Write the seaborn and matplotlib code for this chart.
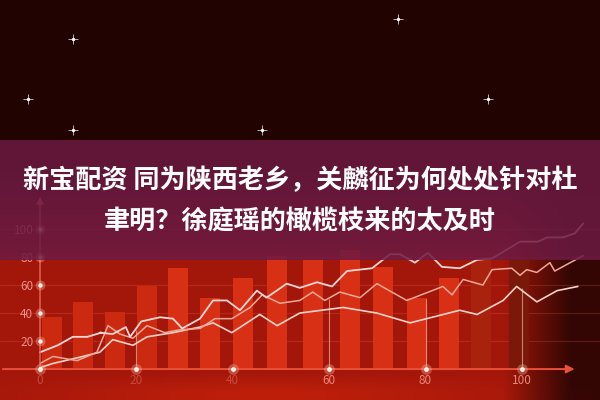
import numpy as np
import pandas as pd
import matplotlib
matplotlib.use("Agg")
import matplotlib.pyplot as plt
from matplotlib.patches import Rectangle
import seaborn as sns

sns.set_style("dark")
plt.rcParams['font.family'] = ['Noto Sans CJK SC', 'DejaVu Sans']

# ---------------- data ----------------
title_line1 = "新宝配资 同为陕西老乡，关麟征为何处处针对杜"
title_line2 = "聿明？徐庭瑶的橄榄枝来的太及时"

bar_x = [2.5, 8.9, 15.6, 22.2, 28.6, 35.3, 42.1, 49.2, 56.6, 64.3, 71.2, 78.2, 84.8, 91.6, 99.4]
bar_h = [37, 48, 41, 59, 72, 51, 65, 81, 78, 85, 73, 51, 65, 79, 78]

line1_x = [0, 3.7, 6.8, 9.8, 12.7, 12.4, 15.1, 17.8, 18.7, 21.0, 24.9, 27.6, 29.5, 33.2, 35.9, 38.8, 41.5, 45.0, 47.0, 51.2, 53.9, 57.5, 60.6, 63.7, 68.9, 72.6, 74.7, 77.8, 80.5, 83.4, 87.1, 90.7, 93.8, 99.6, 103.3, 105.2, 108.5, 111.0, 112.7]
line1_y = [12, 17, 23, 23, 26, 26, 25, 30, 23, 34, 37, 36, 29, 36, 49, 49, 42, 56, 51, 61, 58, 62, 59, 70, 72, 82, 82, 76, 83, 73, 72, 78, 79, 91, 91, 94, 94, 97, 104]

line2_x = [0, 2.7, 7.7, 11.8, 14.1, 16.6, 19.3, 22.2, 25.9, 29.0, 33.2, 36.3, 39.8, 43.6, 46.1, 49.8, 53.9, 56.6, 59.1, 62.2, 66.4, 69.9, 76.1, 83.6, 85.5, 87.8, 91.9, 93.8, 97.9, 99.6, 101.0, 103.1, 105.8, 106.8, 112.7]
line2_y = [4, 9, 6, 12, 31, 25, 22, 31, 26, 28, 29, 36, 36, 44, 53, 47, 49, 55, 49, 55, 51, 61, 49, 59, 53, 64, 60, 71, 72, 67, 71, 69, 76, 70, 81]

line3_x = [0, 2.7, 7.7, 12.4, 15.1, 19.3, 22.2, 27.6, 33.2, 35.9, 39.8, 45.6, 49.2, 53.9, 62.9, 69.9, 76.8, 87.1, 90.7, 96.1, 98.9, 103.1, 107.3, 111.6]
line3_y = [1, 4, 8, 12, 21, 17, 23, 26, 30, 33, 26, 39, 31, 40, 44, 40, 33, 42, 39, 49, 59, 48, 56, 59]

y_ticks = [20, 40, 60, 80, 100]
x_ticks = [0, 20, 40, 60, 80, 100]
x_tick_labels = ["0", "20", "40", "60", "80", "100"]

drop_x = [20, 60, 80, 100]
drop_top = [28, 50, 50, 58]

star_x = [6.8, -2.5, 6.8, 46.1, 74.3, 92.9]
star_y = [236, 193, 171, 171, 250, 193]

# ---------------- figure ----------------
fig = plt.figure(figsize=(6, 4), dpi=100)
ax = fig.add_axes([0, 0, 1, 1])
XL = (-8.3, 116.2)
YL = (-22.1, 263.6)

# background gradient (styling only)
H, W = 400, 600
rr = np.linspace(0, 1, H)[:, None]
cc = np.linspace(0, 1, W)[None, :]
top = np.array([0.13, 0.015, 0.01])
mid = np.array([0.64, 0.09, 0.04])
v = np.clip((rr - 0.42) / 0.22, 0, 1)
hfac = np.clip(1 - (cc - 0.84) / 0.13, 0.15, 1)
img = top[None, None, :] + (mid - top)[None, None, :] * (v * hfac)[..., None]
below = np.clip((rr - 0.93) / 0.05, 0, 1) * np.exp(-((cc - 0.45) ** 2) / 0.12) * hfac
img[..., 0] += below * 0.1
img[..., 1] += below * 0.03
img = np.clip(img, 0, 1)
ax.imshow(img, extent=[XL[0], XL[1], YL[0], YL[1]], aspect='auto', zorder=0, origin='upper')

# horizontal faint grid
for yt in y_ticks:
    ax.axhline(yt, color='#ff7a5a', alpha=0.2, lw=0.8, zorder=1)

# bars
bar_colors = ['#cc2a10'] * 4 + ['#d83014'] * 9 + ['#a8220d', '#7a180a']
df_bars = pd.DataFrame({'x': bar_x, 'h': bar_h, 'k': list(range(len(bar_x)))})
sns.barplot(data=df_bars, x='x', y='h', hue='k', palette=bar_colors, native_scale=True,
            width=0.65, dodge=False, legend=False, ax=ax, zorder=2, linewidth=0, saturation=1)

# drop lines
ax.vlines(drop_x, 0, drop_top, color='#f4b0a0', lw=0.8, alpha=0.7, zorder=3)

# lines
sns.lineplot(x=line3_x, y=line3_y, sort=False, color='#f6d2c8', lw=1.2, ax=ax, zorder=4)
sns.lineplot(x=line2_x, y=line2_y, sort=False, color='#f2a898', lw=1.1, ax=ax, zorder=4)
sns.lineplot(x=line1_x, y=line1_y, sort=False, color='#fad6d6', lw=1.3, ax=ax, zorder=4)

# axes arrows
ax.annotate('', xy=(111.5, 0), xytext=(XL[0], 0),
            arrowprops=dict(arrowstyle='-|>', color='#e8503a', lw=1.4, mutation_scale=12), zorder=5)
ax.annotate('', xy=(0, 125), xytext=(0, -4),
            arrowprops=dict(arrowstyle='-|>', color='#e86a58', lw=1.0, mutation_scale=10), zorder=5)

# glowing dots on axes
ax.scatter(x_ticks, [0] * len(x_ticks), s=60, color='#ffb8a0', alpha=0.35, linewidths=0, zorder=6)
ax.scatter(x_ticks, [0] * len(x_ticks), s=12, color='#fff2e8', linewidths=0, zorder=6)
ax.scatter([0] * len(y_ticks), y_ticks, s=50, color='#ffb8a0', alpha=0.35, linewidths=0, zorder=6)
ax.scatter([0] * len(y_ticks), y_ticks, s=10, color='#fff2e8', linewidths=0, zorder=6)

# stars
ax.scatter(star_x, star_y, s=45, marker='+', color='white', linewidths=0.6, alpha=0.8, zorder=6)
ax.scatter(star_x, star_y, s=6, color='white', linewidths=0, zorder=6)

# ticks inside
ax.set_xlim(*XL)
ax.set_ylim(*YL)
ax.set_yticks(y_ticks)
ax.set_yticklabels([str(t) for t in y_ticks])
ax.set_xticks(x_ticks)
ax.set_xticklabels(x_tick_labels)
ax.tick_params(axis='y', length=0, pad=-24, labelsize=8.5, labelcolor='#e8948a', labelleft=True)
ax.tick_params(axis='x', length=0, pad=-19, labelsize=8.5, labelcolor='#e8867a')
for lab in ax.get_xticklabels():
    if lab.get_text() in ('0', '20', '40'):
        lab.set_alpha(0.45)
ax.set_xlabel('')
ax.set_ylabel('')
ax.grid(False)
for s in ax.spines.values():
    s.set_visible(False)

# banner
ax.add_patch(Rectangle((0, 0.35), 1, 0.30, transform=ax.transAxes, facecolor='#6c1a42',
                       alpha=0.86, edgecolor='none', zorder=10))

fig.text(0.5, 1 - 181 / 400, title_line1, ha='center', va='center', fontsize=18.8,
         fontweight='bold', color='white')
fig.text(0.5, 1 - 222 / 400, title_line2, ha='center', va='center', fontsize=18.8,
         fontweight='bold', color='white')

fig.savefig('out.png', dpi=100)
